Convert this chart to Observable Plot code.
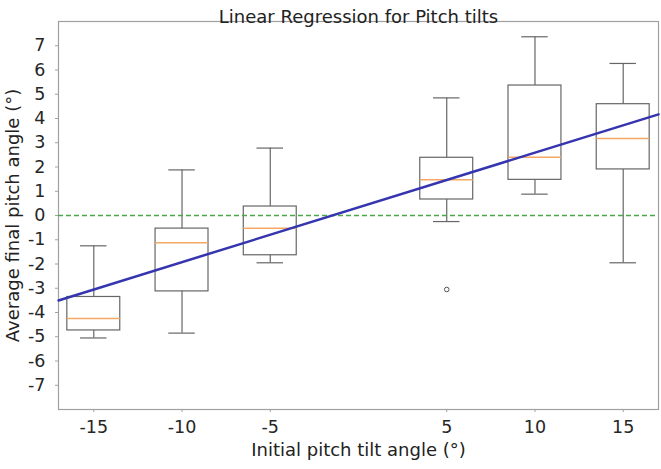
<!DOCTYPE html>
<html>
<head>
<meta charset="utf-8">
<script src="https://cdn.jsdelivr.net/npm/d3@7"></script>
<script src="https://cdn.jsdelivr.net/npm/@observablehq/plot@0.6"></script>
<style>
  html, body { margin: 0; padding: 0; background: #fff; }
  #chart svg { display: block; }
</style>
</head>
<body>
<div id="chart"></div>
<script>
// Initial pitch tilt angles (box positions)
const positions = [-15, -10, -5, 5, 10, 15];
// Box plot statistics
const whiskerLow  = [-5.05, -4.85, -1.95, -0.25, 0.88, -1.95];
const q1          = [-4.74, -3.13, -1.64,  0.66, 1.47,  1.90];
const medians     = [-4.25, -1.12, -0.53,  1.47, 2.40,  3.18];
const q3          = [-3.36, -0.54,  0.37,  2.38, 5.36,  4.59];
const whiskerHigh = [-1.25,  1.88,  2.78,  4.85, 7.37,  6.27];
// Outliers
const outlierX = [5];
const outlierY = [-3.05];
// Linear regression fit (slope, intercept)
const regSlope = 0.2257;
const regIntercept = 0.334;
// Tick values
const xTicks = [-15, -10, -5, 5, 10, 15];
const yTicks = [-7, -6, -5, -4, -3, -2, -1, 0, 1, 2, 3, 4, 5, 6, 7];
const xDomain = [-17, 17];
const yDomain = [-8, 8];

const titleText = "Linear Regression for Pitch tilts";
const xLabel = "Initial pitch tilt angle (°)";
const yLabel = "Average final pitch angle (°)";

const halfBox = 1.5;
const halfCap = 0.75;

const boxes = positions.map((p, i) => ({
  p, lo: whiskerLow[i], q1: q1[i], med: medians[i], q3: q3[i], hi: whiskerHigh[i]
}));
const outliers = outlierX.map((x, i) => ({x, y: outlierY[i]}));
const regLine = xDomain.map(x => ({x, y: regIntercept + regSlope * x}));

const fmt = d => (d < 0 ? "-" + (-d) : String(d));
const boxStroke = "#666";

const chart = Plot.plot({
  width: 661,
  height: 469,
  marginLeft: 58,
  marginRight: 3,
  marginTop: 21,
  marginBottom: 60,
  style: { fontFamily: "DejaVu Sans, sans-serif", fontSize: "17.5px", color: "#262626", background: "#fff" },
  x: { domain: xDomain },
  y: { domain: yDomain },
  marks: [
    Plot.frame({ stroke: "#a0a0a0", strokeWidth: 1.2 }),
    Plot.axisX({ ticks: xTicks, tickFormat: fmt, tickSize: 3, tickPadding: 8, stroke: "#a0a0a0", label: null }),
    Plot.axisY({ ticks: yTicks, tickFormat: fmt, tickSize: 3, tickPadding: 10, stroke: "#a0a0a0", label: null }),
    // whiskers
    Plot.ruleX(boxes, { x: "p", y1: "q3", y2: "hi", stroke: boxStroke, strokeWidth: 1.2 }),
    Plot.ruleX(boxes, { x: "p", y1: "lo", y2: "q1", stroke: boxStroke, strokeWidth: 1.2 }),
    // caps
    Plot.ruleY(boxes, { y: "hi", x1: d => d.p - halfCap, x2: d => d.p + halfCap, stroke: boxStroke, strokeWidth: 1.2 }),
    Plot.ruleY(boxes, { y: "lo", x1: d => d.p - halfCap, x2: d => d.p + halfCap, stroke: boxStroke, strokeWidth: 1.2 }),
    // boxes
    Plot.rect(boxes, { x1: d => d.p - halfBox, x2: d => d.p + halfBox, y1: "q1", y2: "q3", fill: "none", stroke: boxStroke, strokeWidth: 1.2 }),
    // medians
    Plot.ruleY(boxes, { y: "med", x1: d => d.p - halfBox, x2: d => d.p + halfBox, stroke: "#f5a865", strokeWidth: 1.5 }),
    // outliers
    Plot.dot(outliers, { x: "x", y: "y", r: 2.3, stroke: "#555", strokeWidth: 1, fill: "none" }),
    // zero line
    Plot.ruleY([0], { stroke: "#4aa84a", strokeWidth: 1.5, strokeDasharray: "5,3" }),
    // regression line
    Plot.line(regLine, { x: "x", y: "y", stroke: "#3535b0", strokeWidth: 2.5 }),
    // title and axis labels
    Plot.text([titleText], { text: d => d, frameAnchor: "top", dy: -11, fontSize: 18, fill: "#222" }),
    Plot.text([xLabel], { text: d => d, frameAnchor: "bottom", dy: 46, fontSize: 18, fill: "#222" }),
    Plot.text([yLabel], { text: d => d, frameAnchor: "left", textAnchor: "middle", dx: -45, rotate: -90, fontSize: 18, fill: "#222" })
  ]
});

document.getElementById("chart").appendChild(chart);
</script>
</body>
</html>
